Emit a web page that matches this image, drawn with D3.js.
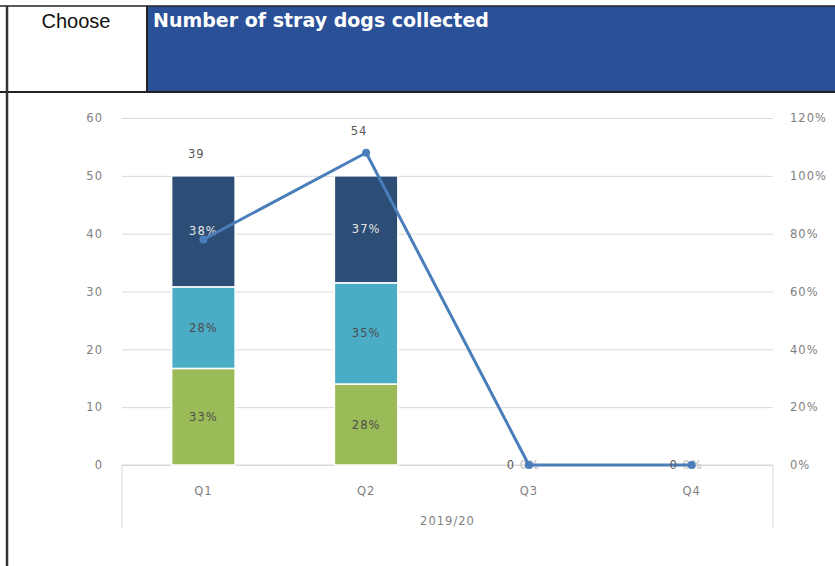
<!DOCTYPE html>
<html>
<head>
<meta charset="utf-8" />
<title>Number of stray dogs collected</title>
<script src="https://d3js.org/d3.v7.min.js"></script>
<style>
body { margin: 0; background: white; }
svg { display: block; }
.lbl, .tick text { font-family: "DejaVu Sans", sans-serif; font-size: 11.5px; letter-spacing: 1px; }
.tick text { fill: #808080; }
</style>
</head>
<body>
<div id="container"></div>
<script>
// data
var quarters = ["Q1", "Q2", "Q3", "Q4"];
var groupLabel = "2019/20";
var dogsCollected = [39, 54, 0, 0];
var shareGreen = [33.4, 28, 0, 0];   // bottom segment (%)
var shareTeal  = [28.2, 35, 0, 0];   // middle segment (%)
var shareDark  = [38.4, 37, 0, 0];   // top segment (%)
var leftTicks = [0, 10, 20, 30, 40, 50, 60];
var rightTicks = [0, 20, 40, 60, 80, 100, 120];

var width = 835, height = 566;
var svg = d3.select("#container").append("svg")
    .attr("width", width).attr("height", height);

// spreadsheet header
svg.append("rect").attr("x", 147).attr("y", 6).attr("width", width - 147).attr("height", 86)
    .attr("fill", "#2a5098");
svg.append("line").attr("x1", 0).attr("x2", width).attr("y1", 6).attr("y2", 6)
    .attr("stroke", "#222").attr("stroke-width", 1.5);
svg.append("line").attr("x1", 0).attr("x2", width).attr("y1", 92).attr("y2", 92)
    .attr("stroke", "#222").attr("stroke-width", 2);
svg.append("line").attr("x1", 147).attr("x2", 147).attr("y1", 6).attr("y2", 92)
    .attr("stroke", "#222").attr("stroke-width", 2);
svg.append("line").attr("x1", 7).attr("x2", 7).attr("y1", 6).attr("y2", height)
    .attr("stroke", "#333").attr("stroke-width", 2.5);
svg.append("text").attr("x", 76).attr("y", 28).attr("text-anchor", "middle")
    .style("font-family", "'Liberation Sans', Arial, sans-serif").style("font-size", "20px")
    .attr("fill", "#111").text("Choose");
svg.append("text").attr("x", 153).attr("y", 27)
    .style("font-family", "'DejaVu Sans', sans-serif").style("font-size", "19px")
    .style("font-weight", "bold").attr("fill", "white")
    .text("Number of stray dogs collected");

// chart
var plotLeft = 122, plotRight = 773, plotTop = 118, plotBottom = 465;
var x = d3.scaleBand().domain(quarters).range([plotLeft, plotRight]).paddingInner(0.61).paddingOuter(0.305);
var xc = function(q) { return x(q) + x.bandwidth() / 2; };
var y = d3.scaleLinear().domain([0, 60]).range([plotBottom, plotTop]);
var yPct = d3.scaleLinear().domain([0, 120]).range([plotBottom, plotTop]);

svg.append("g").attr("transform", "translate(" + plotRight + ",0)")
    .call(d3.axisLeft(y).tickValues(leftTicks).tickSize(plotRight - plotLeft).tickFormat(""))
    .call(function(g) {
        g.select(".domain").remove();
        g.selectAll("line").attr("stroke", "#d9d9d9");
    });

svg.append("g").attr("transform", "translate(" + (plotLeft - 16) + ",0)")
    .call(d3.axisLeft(y).tickValues(leftTicks).tickSize(0))
    .call(function(g) { g.select(".domain").remove(); });

svg.append("g").attr("transform", "translate(" + (plotRight + 14) + ",0)")
    .call(d3.axisRight(yPct).tickValues(rightTicks).tickSize(0).tickFormat(function(d) { return d + "%"; }))
    .call(function(g) { g.select(".domain").remove(); });

// category axis with group box
var axisCol = "#d9d9d9";
svg.append("path").attr("d", "M" + plotLeft + "," + (plotBottom + 63) + "V" + plotBottom + "H" + plotRight + "V" + (plotBottom + 63))
    .attr("fill", "none").attr("stroke", axisCol);
svg.append("g").selectAll("text").data(quarters).enter().append("text").attr("class", "lbl")
    .attr("x", xc).attr("y", plotBottom + 30).attr("text-anchor", "middle")
    .attr("fill", "#808080").text(function(d) { return d; });
svg.append("text").attr("class", "lbl").attr("x", (plotLeft + plotRight) / 2).attr("y", plotBottom + 60)
    .attr("text-anchor", "middle").attr("fill", "#808080").text(groupLabel);

// stacked bars on the percent axis
var rows = quarters.map(function(q, i) {
    return { q: q, green: shareGreen[i], teal: shareTeal[i], dark: shareDark[i] };
});
var keys = ["green", "teal", "dark"];
var colors = { green: "#9bbb59", teal: "#4bacc6", dark: "#2c4d75" };
var labelCol = { green: "#4d4d4d", teal: "#4d4d4d", dark: "#e6e6e6" };
var stack = d3.stack().keys(keys)(rows);

var layers = svg.append("g").selectAll("g").data(stack).enter().append("g");
layers.selectAll("rect").data(function(s) { return s.map(function(d) { return { key: s.key, d: d }; }); })
    .enter().filter(function(e) { return e.d[1] - e.d[0] > 0; }).append("rect")
    .attr("x", function(e) { return x(e.d.data.q); })
    .attr("y", function(e) { return yPct(e.d[1]); })
    .attr("width", x.bandwidth())
    .attr("height", function(e) { return yPct(e.d[0]) - yPct(e.d[1]); })
    .attr("fill", function(e) { return colors[e.key]; })
    .attr("stroke", "white").attr("stroke-width", 1.5);

// line on the count axis
var line = d3.line().x(function(d, i) { return xc(quarters[i]); }).y(function(d) { return y(d); });
svg.append("path").datum(dogsCollected).attr("d", line)
    .attr("fill", "none").attr("stroke", "#4a7ebb").attr("stroke-width", 3).attr("stroke-linejoin", "round");
svg.append("g").selectAll("circle").data(dogsCollected).enter().append("circle")
    .attr("cx", function(d, i) { return xc(quarters[i]); })
    .attr("cy", function(d) { return y(d); })
    .attr("r", 4).attr("fill", "#4a7ebb");

// bar segment labels (zero segments drawn faint, as in the sheet)
layers.selectAll("text.seg").data(function(s) { return s.map(function(d) { return { key: s.key, d: d }; }); })
    .enter().append("text").attr("class", "seg lbl")
    .attr("x", function(e) { return xc(e.d.data.q); })
    .attr("y", function(e) { return (yPct(e.d[0]) + yPct(e.d[1])) / 2 + 4; })
    .attr("text-anchor", "middle")
    .attr("fill", function(e) { return e.d[1] - e.d[0] > 0 ? labelCol[e.key] : "#cfcfcf"; })
    .attr("dx", function(e) { return e.d[1] - e.d[0] > 0 ? 0 : 1; })
    .text(function(e) { return Math.round(e.d[1] - e.d[0]) + "%"; });

// line labels
svg.append("g").selectAll("text").data(dogsCollected).enter().append("text").attr("class", "lbl")
    .attr("x", function(d, i) { return xc(quarters[i]) + (d > 0 ? -7 : -18); })
    .attr("y", function(d, i) {
        if (d === 0) return y(d) + 4;
        var barTop = yPct(shareGreen[i] + shareTeal[i] + shareDark[i]);
        return Math.min(y(d), barTop) - 18;
    })
    .attr("text-anchor", "middle")
    .attr("fill", "#595959").text(function(d) { return d; });
</script>
</body>
</html>
